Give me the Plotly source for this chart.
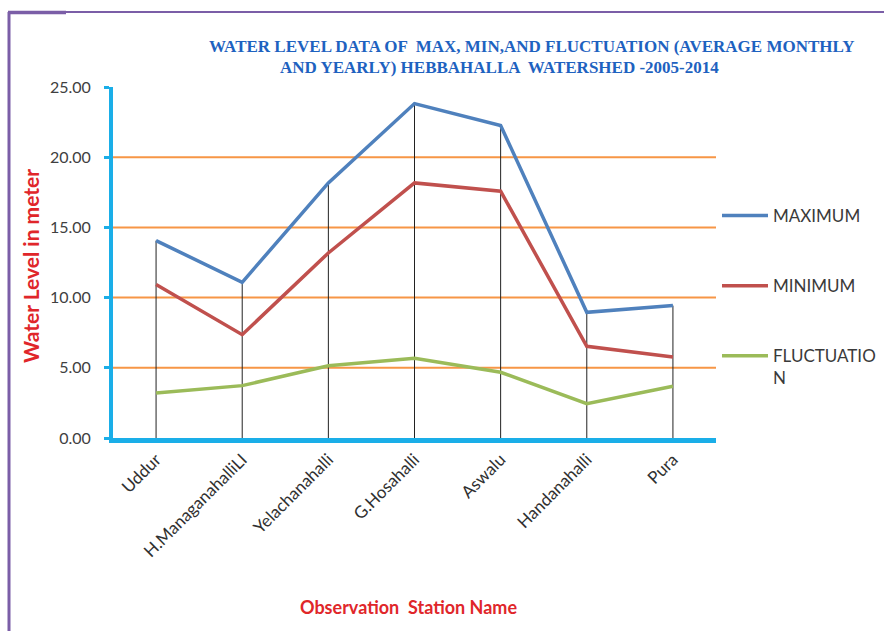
import plotly.graph_objects as go

stations = ["Uddur", "H.ManaganahalliLI", "Yelachanahalli", "G.Hosahalli",
            "Aswalu", "Handanahalli", "Pura"]
maximum = [14.06, 11.09, 18.17, 23.82, 22.26, 8.95, 9.43]
minimum = [10.93, 7.36, 13.18, 18.17, 17.58, 6.53, 5.77]
fluctuation = [3.21, 3.73, 5.15, 5.68, 4.68, 2.45, 3.68]
series_names = ["MAXIMUM", "MINIMUM", "FLUCTUATIO<br>N"]
series_colors = ["#4F81BD", "#C0504D", "#9BBB59"]
y_ticks = [0, 5, 10, 15, 20, 25]
grid_values = [5, 10, 15, 20]

W, H = 884, 631
L, R, T, B = 113, 716, 87, 438  # plot area in pixels


def px(x):
    return (x - L) / (R - L)


def py(y):
    return (B - y) / (B - T)


fig = go.Figure()

# drop lines (from max series to axis)
dx, dy = [], []
for s, v in zip(stations, maximum):
    dx += [s, s, None]
    dy += [0, v, None]
fig.add_trace(go.Scatter(x=dx, y=dy, mode="lines", line=dict(color="#222222", width=1),
                         showlegend=False, hoverinfo="skip"))

for i, (name, vals, col) in enumerate(zip(series_names, [maximum, minimum, fluctuation], series_colors)):
    fig.add_trace(go.Scatter(x=stations, y=vals, mode="lines", name=name,
                             line=dict(color=col, width=3.5), legendgroup=str(i)))

shapes = []
for g in grid_values:
    shapes.append(dict(type="line", xref="paper", yref="y", x0=0, x1=1, y0=g, y1=g,
                       line=dict(color="#F79646", width=2), layer="below"))
# purple frame
purple = "#7B5EA7"
shapes.append(dict(type="line", xref="paper", yref="paper", x0=px(9), x1=px(9), y0=py(12), y1=py(640),
                   line=dict(color=purple, width=3)))
shapes.append(dict(type="line", xref="paper", yref="paper", x0=px(8), x1=px(890), y0=py(12), y1=py(12),
                   line=dict(color=purple, width=2)))
shapes.append(dict(type="line", xref="paper", yref="paper", x0=px(8), x1=px(66), y0=py(12.5), y1=py(12.5),
                   line=dict(color=purple, width=3.5)))

title_font = dict(family="Liberation Serif", size=17, color="#1E62C0")
annotations = [
    dict(text="<b>WATER LEVEL DATA OF  MAX, MIN,AND FLUCTUATION (AVERAGE MONTHLY</b>",
         xref="paper", yref="paper", x=px(532), y=py(46), showarrow=False, font=title_font,
         xanchor="center", yanchor="middle"),
    dict(text="<b>AND YEARLY) HEBBAHALLA  WATERSHED -2005-2014</b>",
         xref="paper", yref="paper", x=px(499), y=py(67), showarrow=False, font=title_font,
         xanchor="center", yanchor="middle"),
    dict(text="<b>Water Level in meter</b>", xref="paper", yref="paper", x=px(30), y=py(266),
         textangle=-90, showarrow=False, font=dict(family="Lato", size=21, color="#E0262A"),
         xanchor="center", yanchor="middle"),
    dict(text="<b>Observation  Station Name</b>", xref="paper", yref="paper", x=px(408), y=py(607),
         showarrow=False, font=dict(family="Lato", size=18, color="#E0262A"),
         xanchor="center", yanchor="middle"),
]

axis_blue = "#1AAEE8"
fig.update_layout(
    width=W, height=H,
    margin=dict(l=L, r=W - R, t=T, b=H - B, pad=0, autoexpand=False),
    plot_bgcolor="white", paper_bgcolor="white",
    shapes=shapes, annotations=annotations,
    showlegend=True,
    legend=dict(x=px(717), y=py(198), xanchor="left", yanchor="top",
                font=dict(family="Lato", size=17, color="#3A3A3A"),
                tracegroupgap=45, valign="top", bgcolor="rgba(0,0,0,0)",
                itemwidth=46),
    xaxis=dict(type="category", range=[-0.5, 6.5], showgrid=False, showline=True,
               linecolor=axis_blue, linewidth=5, tickangle=-45, ticks="",
               tickfont=dict(family="Lato", size=17, color="#303030"), zeroline=False),
    yaxis=dict(range=[0, 25], tickvals=y_ticks, tickformat=".2f", showgrid=False,
               showline=True, linecolor=axis_blue, linewidth=4, ticks="outside",
               ticklen=5, tickwidth=3, tickcolor=axis_blue, zeroline=False,
               ticklabelstandoff=10,
               tickfont=dict(family="Lato", size=16, color="#404040")),
)

fig.write_html("out.html")
